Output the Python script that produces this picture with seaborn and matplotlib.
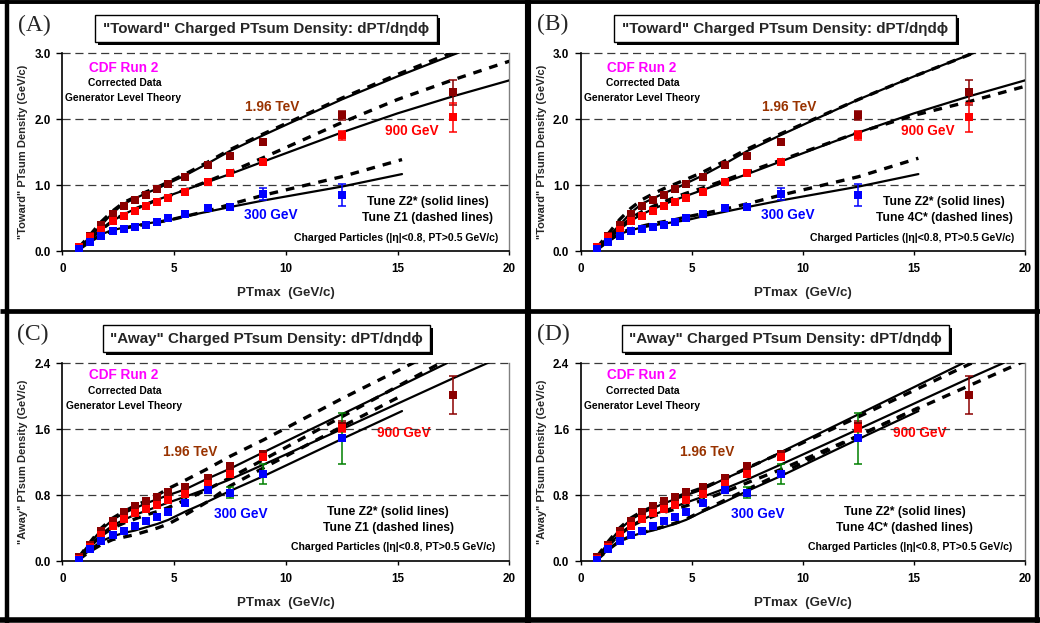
import matplotlib
matplotlib.use("Agg")
import matplotlib.pyplot as plt
from matplotlib.patches import Rectangle
from matplotlib.lines import Line2D
import seaborn as sns

# ---------------------------------------------------------------- data
# PTmax bin centres (GeV/c)
PT = [0.75, 1.25, 1.75, 2.25, 2.75, 3.25, 3.75, 4.25, 4.75, 5.5, 6.5, 7.5, 9.0, 12.5, 17.5]
PT_300 = PT[:14]
# generator-level prediction points
PT_MC = [0.75, 1.25, 1.75, 2.25, 2.75, 3.25, 3.75, 4.25, 4.75, 5.5, 6.5, 7.5, 9.0, 12.5, 15.0, 17.5, 20.0]
PT_MC_300 = [0.75, 1.25, 1.75, 2.25, 2.75, 3.25, 3.75, 4.25, 4.75, 5.5, 6.5, 7.5, 9.0, 12.5, 15.2]

# "Toward" region, corrected CDF data
tow_196 = [0.07, 0.23, 0.40, 0.57, 0.68, 0.77, 0.86, 0.94, 1.02, 1.13, 1.30, 1.45, 1.66, 2.06, 2.41]
tow_196_err = [0.01, 0.01, 0.01, 0.01, 0.01, 0.01, 0.01, 0.01, 0.01, 0.02, 0.02, 0.03, 0.03, 0.07, 0.19]
tow_900 = [0.06, 0.21, 0.33, 0.46, 0.54, 0.61, 0.68, 0.74, 0.81, 0.90, 1.05, 1.18, 1.36, 1.76, 2.03]
tow_900_err = [0.01, 0.01, 0.01, 0.01, 0.01, 0.01, 0.01, 0.01, 0.01, 0.01, 0.02, 0.02, 0.03, 0.07, 0.22]
tow_300 = [0.03, 0.14, 0.23, 0.30, 0.34, 0.37, 0.40, 0.45, 0.51, 0.57, 0.66, 0.67, 0.87, 0.85]
tow_300_err = [0.01, 0.01, 0.01, 0.01, 0.01, 0.01, 0.01, 0.01, 0.01, 0.01, 0.02, 0.04, 0.09, 0.17]

# "Away" region, corrected CDF data
away_196 = [0.05, 0.20, 0.36, 0.49, 0.59, 0.67, 0.73, 0.78, 0.84, 0.90, 1.01, 1.15, 1.30, 1.64, 2.01]
away_196_err = [0.01, 0.01, 0.01, 0.01, 0.01, 0.01, 0.01, 0.01, 0.01, 0.01, 0.02, 0.02, 0.03, 0.06, 0.23]
away_900 = [0.03, 0.17, 0.32, 0.43, 0.51, 0.58, 0.63, 0.68, 0.74, 0.81, 0.94, 1.06, 1.26, 1.61]
away_900_err = [0.01, 0.01, 0.01, 0.01, 0.01, 0.01, 0.01, 0.01, 0.01, 0.01, 0.02, 0.02, 0.03, 0.05]
away_300 = [0.01, 0.14, 0.24, 0.31, 0.37, 0.43, 0.48, 0.53, 0.59, 0.70, 0.86, 0.83, 1.06, 1.49]
away_300_err = [0.01, 0.01, 0.01, 0.01, 0.01, 0.01, 0.01, 0.01, 0.01, 0.02, 0.04, 0.07, 0.12, 0.31]

# PYTHIA Tune Z2* (solid)
tow_z2_196 = [0.05, 0.22, 0.40, 0.58, 0.72, 0.80, 0.88, 0.95, 1.03, 1.15, 1.33, 1.52, 1.76, 2.30, 2.65, 2.98, 3.30]
tow_z2_900 = [0.05, 0.19, 0.33, 0.46, 0.56, 0.64, 0.71, 0.78, 0.84, 0.93, 1.05, 1.17, 1.36, 1.80, 2.09, 2.35, 2.59]
tow_z2_300 = [0.03, 0.15, 0.26, 0.32, 0.36, 0.39, 0.42, 0.445, 0.47, 0.53, 0.60, 0.67, 0.77, 0.98, 1.17]
away_z2_196 = [0.05, 0.22, 0.38, 0.50, 0.58, 0.64, 0.70, 0.75, 0.80, 0.87, 1.00, 1.12, 1.32, 1.78, 2.11, 2.44, 2.77]
away_z2_900 = [0.04, 0.19, 0.33, 0.43, 0.50, 0.56, 0.61, 0.66, 0.71, 0.78, 0.88, 0.99, 1.17, 1.60, 1.91, 2.22, 2.52]
away_z2_300 = [0.02, 0.14, 0.24, 0.30, 0.34, 0.37, 0.41, 0.45, 0.50, 0.60, 0.72, 0.85, 1.03, 1.48, 1.82]

# PYTHIA Tune Z1 (dashed)
tow_z1_196 = [0.06, 0.25, 0.45, 0.61, 0.74, 0.82, 0.90, 0.97, 1.05, 1.17, 1.35, 1.54, 1.78, 2.32, 2.68, 3.02, 3.35]
tow_z1_900 = [0.05, 0.19, 0.33, 0.46, 0.56, 0.64, 0.71, 0.78, 0.84, 0.93, 1.06, 1.20, 1.42, 1.95, 2.30, 2.60, 2.88]
tow_z1_300 = [0.03, 0.15, 0.25, 0.31, 0.35, 0.38, 0.41, 0.44, 0.47, 0.53, 0.61, 0.71, 0.85, 1.13, 1.39]
away_z1_196 = [0.05, 0.23, 0.40, 0.52, 0.60, 0.67, 0.73, 0.80, 0.88, 0.98, 1.12, 1.27, 1.47, 1.97, 2.31, 2.65, 3.00]
away_z1_900 = [0.04, 0.18, 0.31, 0.40, 0.46, 0.51, 0.56, 0.60, 0.65, 0.74, 0.87, 1.01, 1.23, 1.75, 2.12, 2.49, 2.85]
away_z1_300 = [0.02, 0.12, 0.20, 0.26, 0.29, 0.32, 0.36, 0.40, 0.45, 0.56, 0.72, 0.91, 1.13, 1.63, 2.01]

# PYTHIA Tune 4C* (dashed)
tow_4c_196 = [0.06, 0.27, 0.48, 0.65, 0.78, 0.87, 0.95, 1.02, 1.09, 1.20, 1.37, 1.55, 1.78, 2.30, 2.65, 2.98, 3.30]
tow_4c_900 = [0.05, 0.21, 0.36, 0.50, 0.60, 0.68, 0.75, 0.82, 0.88, 0.96, 1.08, 1.20, 1.38, 1.80, 2.06, 2.27, 2.50]
tow_4c_300 = [0.03, 0.16, 0.27, 0.34, 0.38, 0.42, 0.45, 0.48, 0.52, 0.57, 0.64, 0.72, 0.85, 1.13, 1.41]
away_4c_196 = [0.06, 0.24, 0.40, 0.52, 0.60, 0.66, 0.72, 0.77, 0.82, 0.89, 1.00, 1.13, 1.31, 1.75, 2.07, 2.39, 2.71]
away_4c_900 = [0.04, 0.19, 0.32, 0.42, 0.49, 0.54, 0.59, 0.63, 0.67, 0.74, 0.84, 0.95, 1.11, 1.52, 1.83, 2.13, 2.43]
away_4c_300 = [0.02, 0.14, 0.24, 0.30, 0.34, 0.38, 0.42, 0.46, 0.51, 0.61, 0.74, 0.87, 1.06, 1.52, 1.86]

X_TICKS = [0, 5, 10, 15, 20]
TOWARD_YTICKS = [0.0, 1.0, 2.0, 3.0]
AWAY_YTICKS = [0.0, 0.8, 1.6, 2.4]

TITLE_TOWARD = '"Toward" Charged PTsum Density: dPT/dηdϕ'
TITLE_AWAY = '"Away" Charged PTsum Density: dPT/dηdϕ'
YLABEL_TOWARD = '"Toward" PTsum Density (GeV/c)'
YLABEL_AWAY = '"Away" PTsum Density (GeV/c)'
XLABEL = 'PTmax  (GeV/c)'

# ---------------------------------------------------------------- style
sns.set_theme(style="white")
plt.rcParams["font.family"] = ["Liberation Sans", "DejaVu Sans"]
plt.rcParams["font.weight"] = "bold"

C196, C900, C300 = "#8B0000", "#FF0000", "#0000FF"
C196_TXT, MAGENTA, GREEN = "#993300", "#FF00FF", "#008000"
GRID = "#3a3a3a"

W, H = 1040, 623
fig = plt.figure(figsize=(W / 100, H / 100), dpi=100)
fig.patch.set_facecolor("white")


def fx(px):
    return px / W


def fy(py):
    return 1 - py / H


def add_axes(l, t, r, b):
    return fig.add_axes([fx(l), fy(b), (r - l) / W, (b - t) / H])


def draw_panel(box, ymax, yticks, data, z2, alt, title, title_box,
               tag, tag_xy, ylabel, labels, tune_alt):
    l, t, r, b = box
    ax = add_axes(l, t, r, b)
    ax.set_facecolor("white")
    ax.set_xlim(0, 20)
    ax.set_ylim(0, ymax)

    # dashed reference lines
    for yv in yticks[1:]:
        ax.axhline(yv, color=GRID, lw=0.9, ls=(0, (6.5, 3.8)), zorder=1, clip_on=False)

    # generator predictions
    for (xs, ys) in z2:
        sns.lineplot(x=xs, y=ys, ax=ax, color="black", lw=1.6, estimator=None,
                     sort=False, zorder=3)
    for (xs, ys) in alt:
        sns.lineplot(x=xs, y=ys, ax=ax, color="black", lw=2.4, estimator=None,
                     sort=False, zorder=3.5, linestyle=(0, (2.6, 2.4)))

    # measurements
    for (xs, ys, es, col, ecol) in data:
        ax.errorbar(xs, ys, yerr=es, fmt="none", ecolor=ecol, elinewidth=1.1,
                    capsize=2.6, capthick=1.1, zorder=4)
        sns.scatterplot(x=xs, y=ys, ax=ax, marker="s", color=col, s=26,
                        linewidth=0, zorder=5)

    # axes cosmetics
    ax.set_xticks(X_TICKS)
    ax.set_xticklabels([str(v) for v in X_TICKS])
    ax.set_yticks(yticks)
    ax.set_yticklabels([f"{v:.1f}" for v in yticks])
    ax.tick_params(axis="x", direction="out", length=3, width=1, pad=5.5,
                   labelsize=8.4, colors="black", bottom=True)
    ax.tick_params(axis="y", direction="out", length=4.3, width=1, pad=4,
                   labelsize=8.4, colors="black", left=True)
    for lab in ax.get_xticklabels() + ax.get_yticklabels():
        lab.set_fontweight("bold")
    ax.spines["left"].set_color("black")
    ax.spines["left"].set_linewidth(1.2)
    ax.spines["bottom"].set_color("black")
    ax.spines["bottom"].set_linewidth(1.2)
    ax.spines["right"].set_color("#808080")
    ax.spines["right"].set_linewidth(1.0)
    ax.spines["top"].set_visible(False)
    ax.grid(False)
    ax.set_xlabel("")
    ax.set_ylabel("")

    # in-plot annotations
    tr = ax.transAxes
    ax.text(labels["cdf"][0], labels["cdf"][1], "CDF Run 2", transform=tr, color=MAGENTA,
            fontsize=9.8, fontweight="bold", ha="center", va="center")
    ax.text(labels["corr"][0], labels["corr"][1], "Corrected Data", transform=tr,
            color="black", fontsize=7.4, fontweight="bold", ha="center", va="center")
    ax.text(labels["gen"][0], labels["gen"][1], "Generator Level Theory", transform=tr,
            color="black", fontsize=7.4, fontweight="bold", ha="center", va="center")
    ax.text(labels["e196"][0], labels["e196"][1], "1.96 TeV", transform=tr, color=C196_TXT,
            fontsize=9.8, fontweight="bold", ha="center", va="center")
    ax.text(labels["e900"][0], labels["e900"][1], "900 GeV", transform=tr, color=C900,
            fontsize=9.8, fontweight="bold", ha="center", va="center", zorder=0.5)
    ax.text(labels["e300"][0], labels["e300"][1], "300 GeV", transform=tr, color=C300,
            fontsize=9.8, fontweight="bold", ha="center", va="center")
    ax.text(labels["tz2"][0], labels["tz2"][1], "Tune Z2* (solid lines)", transform=tr,
            color="black", fontsize=8.7, fontweight="bold", ha="center", va="center")
    ax.text(labels["talt"][0], labels["talt"][1], tune_alt, transform=tr,
            color="black", fontsize=8.7, fontweight="bold", ha="center", va="center")
    ax.text(labels["cp"][0], labels["cp"][1], "Charged Particles (|η|<0.8, PT>0.5 GeV/c)",
            transform=tr, color="black", fontsize=7.6, fontweight="bold",
            ha="center", va="center")

    # axis titles
    fig.text(fx((l + r) / 2), fy(b + 41.7), XLABEL, fontsize=9.6, fontweight="bold",
             ha="center", va="center")
    fig.text(fx(l - 39), fy((t + b) / 2), ylabel, fontsize=8.0, fontweight="bold",
             rotation=90, ha="center", va="center")

    # framed title with drop shadow
    bl, bt, br, bb = title_box
    fig.patches.append(Rectangle((fx(bl + 3), fy(bb + 3)), (br - bl) / W, (bb - bt) / H,
                                 transform=fig.transFigure, facecolor="black",
                                 edgecolor="black", lw=0, zorder=1))
    fig.patches.append(Rectangle((fx(bl), fy(bb)), (br - bl) / W, (bb - bt) / H,
                                 transform=fig.transFigure, facecolor="white",
                                 edgecolor="black", lw=1.0, zorder=2))
    fig.text(fx((bl + br) / 2), fy((bt + bb) / 2 + 0.5), title, fontsize=10.9,
             fontweight="bold", ha="center", va="center", zorder=3)

    # panel tag
    fig.text(fx(tag_xy[0]), fy(tag_xy[1]), tag, fontsize=17, fontweight="normal",
             family=["Liberation Serif", "DejaVu Serif"], ha="left", va="center")
    return ax


toward_labels = dict(cdf=(0.138, 0.928), corr=(0.140, 0.848), gen=(0.137, 0.775),
                     e196=(0.469, 0.727), e900=(0.781, 0.607), e300=(0.467, 0.182),
                     tz2=(0.818, 0.249), talt=(0.818, 0.168), cp=(0.746, 0.069))
away_labels = dict(cdf=(0.138, 0.941), corr=(0.140, 0.858), gen=(0.139, 0.786),
                   e196=(0.285, 0.553), e900=(0.763, 0.649), e300=(0.399, 0.238),
                   tz2=(0.729, 0.249), talt=(0.729, 0.168), cp=(0.741, 0.069))

tow_data = [(PT, tow_196, tow_196_err, C196, C196),
            (PT, tow_900, tow_900_err, C900, C900),
            (PT_300, tow_300, tow_300_err, C300, C300)]
away_data = [(PT, away_196, away_196_err, C196, C196),
             (PT_300, away_900, away_900_err, C900, C900),
             (PT_300, away_300, away_300_err, C300, GREEN)]

tow_z2 = [(PT_MC, tow_z2_196), (PT_MC, tow_z2_900), (PT_MC_300, tow_z2_300)]
away_z2 = [(PT_MC, away_z2_196), (PT_MC, away_z2_900), (PT_MC_300, away_z2_300)]
tow_z1 = [(PT_MC, tow_z1_196), (PT_MC, tow_z1_900), (PT_MC_300, tow_z1_300)]
away_z1 = [(PT_MC, away_z1_196), (PT_MC, away_z1_900), (PT_MC_300, away_z1_300)]
tow_4c = [(PT_MC, tow_4c_196), (PT_MC, tow_4c_900), (PT_MC_300, tow_4c_300)]
away_4c = [(PT_MC, away_4c_196), (PT_MC, away_4c_900), (PT_MC_300, away_4c_300)]

draw_panel((62.3, 53.3, 509.3, 251.3), 3.0, TOWARD_YTICKS, tow_data, tow_z2, tow_z1,
           TITLE_TOWARD, (95.3, 15, 437.3, 42), "(A)", (18, 25), YLABEL_TOWARD,
           toward_labels, "Tune Z1 (dashed lines)")
draw_panel((580.7, 53.3, 1025.0, 251.3), 3.0, TOWARD_YTICKS, tow_data, tow_z2, tow_4c,
           TITLE_TOWARD, (613.7, 15, 955.7, 42), "(B)", (536.5, 24), YLABEL_TOWARD,
           toward_labels, "Tune 4C* (dashed lines)")
draw_panel((62.3, 363.3, 509.3, 561.0), 2.4, AWAY_YTICKS, away_data, away_z2, away_z1,
           TITLE_AWAY, (102.7, 325, 430.0, 352), "(C)", (16.7, 334), YLABEL_AWAY,
           away_labels, "Tune Z1 (dashed lines)")
draw_panel((580.7, 363.3, 1025.0, 561.0), 2.4, AWAY_YTICKS, away_data, away_z2, away_4c,
           TITLE_AWAY, (621.7, 325, 949.0, 352), "(D)", (537, 334), YLABEL_AWAY,
           away_labels, "Tune 4C* (dashed lines)")

# black frame around and between the four panels
frame = dict(transform=fig.transFigure, color="black", solid_capstyle="butt")
fig.lines.append(Line2D([fx(7), fx(7)], [fy(0), fy(623)], lw=3.2, **frame))
fig.lines.append(Line2D([fx(1036.5), fx(1036.5)], [fy(0), fy(623)], lw=3.2, **frame))
fig.lines.append(Line2D([fx(0), fx(1040)], [fy(1.8), fy(1.8)], lw=2.8, **frame))
fig.lines.append(Line2D([fx(0), fx(1040)], [fy(620), fy(620)], lw=4.0, **frame))
fig.lines.append(Line2D([fx(527.7), fx(527.7)], [fy(0), fy(623)], lw=4.4, **frame))
fig.lines.append(Line2D([fx(0), fx(1040)], [fy(310.8), fy(310.8)], lw=3.4, **frame))

fig.savefig("out.png", dpi=100, facecolor="white")
